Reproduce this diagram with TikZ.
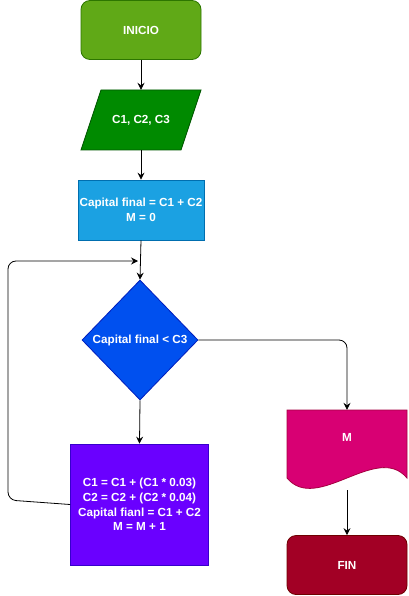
\documentclass[tikz,border=0pt]{standalone}
\usepackage{fontspec}
\setmainfont{Liberation Sans}
\usetikzlibrary{shapes.geometric,arrows.meta}
\definecolor{cIniF}{HTML}{60A917}\definecolor{cIniD}{HTML}{2D7600}
\definecolor{cParF}{HTML}{008A00}\definecolor{cParD}{HTML}{005700}
\definecolor{cBluF}{HTML}{1BA1E2}\definecolor{cBluD}{HTML}{006EAF}
\definecolor{cDiaF}{HTML}{0050EF}\definecolor{cDiaD}{HTML}{001DBC}
\definecolor{cPurF}{HTML}{6A00FF}\definecolor{cPurD}{HTML}{3700CC}
\definecolor{cDocF}{HTML}{D80073}\definecolor{cDocD}{HTML}{A50040}
\definecolor{cFinF}{HTML}{A20025}\definecolor{cFinD}{HTML}{6F0000}
\tikzset{
  lbl/.style={text=white,font=\fontsize{11.7}{14.6}\selectfont\bfseries,align=center,inner sep=0pt},
  boxnode/.style={lbl,draw,line width=0.8pt,rectangle},
  conn/.style={draw=black,line width=0.8pt,-{Stealth[length=7pt,width=7pt,inset=2.5pt]}}
}
\begin{document}
\begin{tikzpicture}[x=1pt,y=-1pt]
\useasboundingbox (0,0) rectangle (408,596);
% INICIO
\node[boxnode,fill=cIniF,draw=cIniD,rounded corners=9pt,minimum width=120pt,minimum height=59pt] (ini) at (141,30) {INICIO};
% parallelogram
\fill[cParF,draw=cParD,line width=0.8pt] (101,90) -- (201,90) -- (181,150) -- (81,150) -- cycle;
\node[lbl,minimum width=100pt,minimum height=60pt] (inp) at (141,120) {C1, C2, C3};
% blue process
\node[boxnode,fill=cBluF,draw=cBluD,minimum width=126pt,minimum height=60pt] (cap) at (141,210) {Capital final = C1 + C2\\M = 0};
% diamond
\node[lbl,shape=diamond,draw=cDiaD,fill=cDiaF,line width=0.8pt,minimum width=116pt,minimum height=120pt] (dec) at (140,340) {Capital final {\textless} C3};
% purple process
\node[boxnode,fill=cPurF,draw=cPurD,minimum width=138pt,minimum height=121pt] (upd) at (139.5,504.5) {C1 = C1 + (C1 * 0.03)\\C2 = C2 + (C2 * 0.04)\\Capital fianl = C1 + C2\\M = M + 1};
% document
\fill[cDocF,draw=cDocD,line width=0.8pt] (287,410) -- (407,410) -- (407,478) .. controls (377,442) and (317,514) .. (287,478) -- cycle;
\node[lbl,minimum width=120pt,minimum height=54pt] (out) at (347,437) {M};
\coordinate (outb) at (347,490);
% FIN
\node[boxnode,fill=cFinF,draw=cFinD,rounded corners=9pt,minimum width=120pt,minimum height=59pt] (fin) at (347,565) {FIN};
% connectors
\draw[conn] (ini.south) -- (inp.north);
\draw[conn] (inp.south) -- (cap.north);
\draw[conn] (cap.south) -- (dec.north);
\draw[conn] (dec.south) -- (upd.north);
\coordinate (loopend) at (138,261);
\draw[conn,rounded corners=8pt] (upd.west) -- (8,500) -- (8,261) -- (loopend);
\draw[conn,rounded corners=8pt] (dec.east) -- (347,340) -- (out.north);
\draw[conn] (outb) -- (fin.north);
\end{tikzpicture}
\end{document}
